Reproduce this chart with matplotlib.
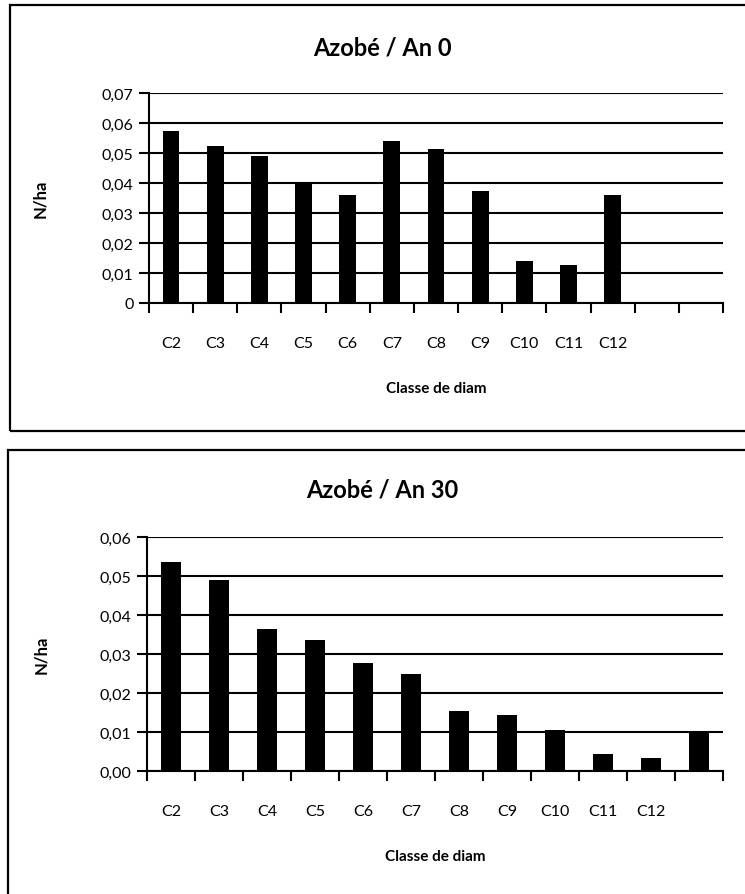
import matplotlib
matplotlib.use("Agg")
import matplotlib.pyplot as plt
import numpy as np
from matplotlib.patches import Rectangle
from matplotlib.ticker import FixedLocator, FuncFormatter

plt.rcParams["font.family"] = ["Lato", "DejaVu Sans"]

# ---------------------------------------------------------------------------
# Data
# ---------------------------------------------------------------------------
cats_an0 = ["C2", "C3", "C4", "C5", "C6", "C7", "C8", "C9", "C10", "C11", "C12", "", ""]
vals_an0 = [0.0575, 0.0525, 0.049, 0.040, 0.036, 0.054, 0.0514, 0.0374,
            0.0141, 0.0128, 0.036, 0.0002, 0.0002]

cats_an30 = ["C2", "C3", "C4", "C5", "C6", "C7", "C8", "C9", "C10", "C11", "C12", ""]
vals_an30 = [0.0537, 0.049, 0.0364, 0.0336, 0.0277, 0.025, 0.0155, 0.0143,
             0.0106, 0.0043, 0.0034, 0.0101]

W, H = 745, 895
fig = plt.figure(figsize=(W / 100, H / 100), dpi=100)


def px(x0, y0, x1, y1):
    """pixel box (top-left origin) -> figure fraction [l, b, w, h]"""
    return [x0 / W, 1 - y1 / H, (x1 - x0) / W, (y1 - y0) / H]


def panel(box, cats, vals, ymax, fmt, bar_w, title, title_y, lab_x):
    ax = fig.add_axes(px(*box))
    x = np.arange(len(cats))
    ax.bar(x, vals, width=bar_w, color="black", zorder=3)
    ax.set_xlim(-0.5, len(cats) - 0.5)
    ax.set_ylim(0, ymax)
    ticks = np.round(np.arange(0, ymax + 1e-9, 0.01), 2)
    ax.yaxis.set_major_locator(FixedLocator(ticks))
    ax.yaxis.set_major_formatter(FuncFormatter(fmt))
    ax.grid(axis="y", color="black", linewidth=1.5, zorder=1)
    ax.set_xticks(x)
    ax.set_xticklabels(cats)
    ax.set_xticks(np.arange(len(cats) + 1) - 0.5, minor=True)
    ax.tick_params(axis="x", which="major", length=0, pad=24, labelsize=11.5)
    ax.tick_params(axis="x", which="minor", length=7, width=1.5, direction="out")
    ax.tick_params(axis="y", length=7, width=1.5, labelsize=11.5, pad=4)
    for s in ["top", "right"]:
        ax.spines[s].set_visible(False)
    for s in ["left", "bottom"]:
        ax.spines[s].set_linewidth(1.5)
    ax.set_axisbelow(True)
    fig.text(382 / W, 1 - title_y / H, title, ha="center", va="center",
             fontsize=17, fontweight="bold")
    ax.set_xlabel("Classe de diam", fontsize=11, fontweight="bold", labelpad=22)
    ax.set_ylabel("N/ha", fontsize=12, fontweight="bold")
    ax.yaxis.set_label_coords(lab_x, 0.5)
    return ax


fmt0 = lambda v, p: "0" if v == 0 else f"{v:.2f}".replace(".", ",")
fmt30 = lambda v, p: f"{v:.2f}".replace(".", ",")

panel((149, 94, 723, 304), cats_an0, vals_an0, 0.07, fmt0, 0.38,
      "Azobé / An 0", 48, -0.175)
panel((147, 538, 723, 772), cats_an30, vals_an30, 0.06, fmt30, 0.40,
      "Azobé / An 30", 490, -0.17)

# outer chart frames
for x0, y0, x1, y1 in [(10, 6, 760, 432), (8, 451, 760, 910)]:
    l, b, w, h = px(x0, y0, x1, y1)
    fig.add_artist(Rectangle((l, b), w, h, transform=fig.transFigure,
                             fill=False, edgecolor="black", linewidth=1.6))

fig.savefig("out.png", dpi=100)
